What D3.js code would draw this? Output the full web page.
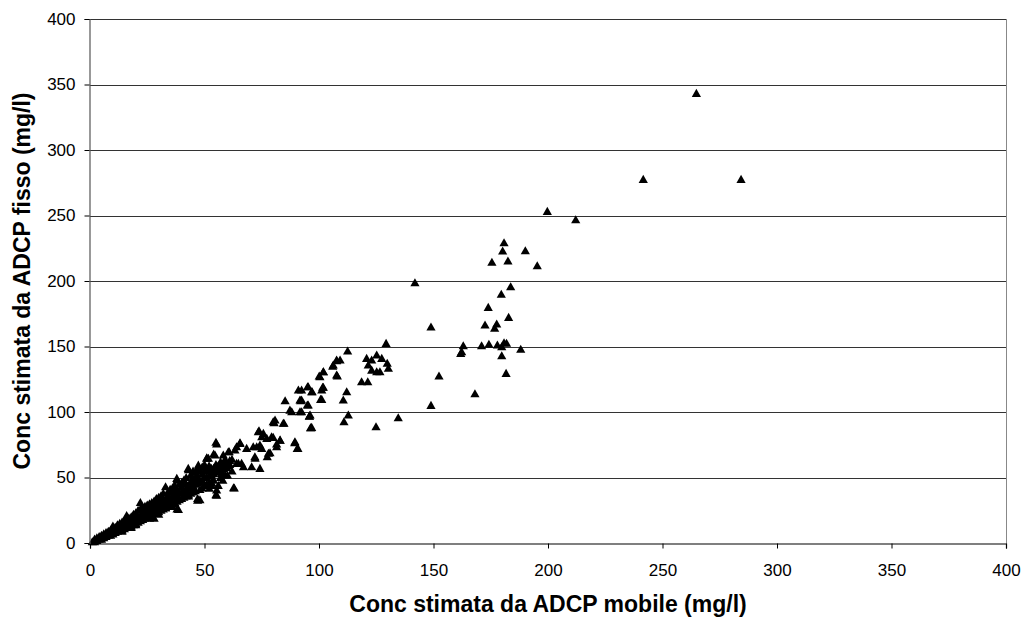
<!DOCTYPE html>
<html>
<head>
<meta charset="utf-8">
<script src="https://cdn.jsdelivr.net/npm/d3@7"></script>
<style>
html,body{margin:0;padding:0;background:#fff;}
svg{display:block;}
text{font-family:"Liberation Sans",Arial,sans-serif;}
</style>
</head>
<body>
<svg id="chart" width="1023" height="618"></svg>
<script>
const xTicks = [0, 50, 100, 150, 200, 250, 300, 350, 400];
const yTicks = [0, 50, 100, 150, 200, 250, 300, 350, 400];
const xTitle = "Conc stimata da ADCP mobile (mg/l)";
const yTitle = "Conc stimata da ADCP fisso (mg/l)";

// dense band (x = ADCP mobile, y = ADCP fisso)
const bandX = [1,2,2,3,3,4,4,5,5,5,6,6,6,7,7,7,8,8,8,9,9,9,10,10,10,10,11,11,11,12,12,12,13,13,13,14,14,14,15,15,15,16,16,16,16,17,17,17,18,18,18,19,19,19,20,20,20,21,21,21,22,22,22,22,23,23,23,24,24,24,25,25,25,26,26,26,27,27,27,28,28,28,29,29,29,30,30,30,31,31,31,32,32,32,33,33,33,34,34,34,35,35,35,36,36,36,37,37,37,38,38,38,38,39,39,39,40,40,40,41,41,41,42,42,42,43,43,43,44,44,44,45,45,45,46,46,46,47,47,47,48,48,48,49,49,49,50,50,50,51,51,51,52,52,52,53,53,54,54,54,55,55,55,55,56,56,57,57,57,58,58,59,59,60,60,61,62,63,62,
  45,47,49,51,53,55,57,59,61,46,50,52,54,56,58,44,42,40,38,36,34,32,30,
  28,18,24,14,33,20,43,26,48,30,53,36];
const bandY = [1,1,3,2,4,3,5,3,6,4,5,7,4,6,8,5,7,9,6,8,10,6,9,11,7,13,10,12,8,10,14,9,12,15,10,13,16,10,14,17,11,15,19,12,21,16,19,13,17,20,13,18,22,14,19,23,15,20,25,16,21,26,31,17,22,27,18,23,28,19,24,29,20,25,30,20,26,31,21,27,32,19,28,34,23,29,35,24,30,36,25,31,38,26,32,43,27,33,39,28,34,41,29,35,42,30,36,44,31,37,48,26,32,38,45,33,39,46,34,40,48,35,41,50,36,42,56,37,43,52,38,44,55,39,45,54,40,46,57,34,47,55,33,48,58,42,50,60,44,50,65,45,51,59,46,52,44,53,68,48,54,77,37,60,55,44,56,62,50,57,48,58,64,59,52,60,55,42,64,
  49,51,53,55,57,58,60,62,63,50,55,55,57,59,60,47,45,43,41,39,36,34,32,
  24,12,20,9,27,14,36,19,41,22,46,28];

// scattered points, mid and high range
const sparseX = [55.3,65.5,68.4,72.8,75,78.6,77.4,72.1,73.8,75,77.2,80,81.5,83,89.5,90.5,80.8,80.4,84.7,87.3,88.1,91.7,96.1,96.8,85.2,92,95.3,91,95,97,100.1,
  54.6,51,58.2,60.8,63.3,64.8,67,70.6,74.2,57.5,59,62.7,38.6,47,55.3,52.1,55.3,59.7,53.2,42.9,47.3,37.9,51.7,60.4,
  80,84.4,91.7,95.8,96.3,89.4,90.8,100.4,101.9,106.2,107.7,107.7,101.2,101.9,100.7,77.9,81.5,83,79.3,75.7,73.5,74.2,71.3,65.5,64,72,66.2,64,
  112.5,129.3,109.2,107.7,106,101.9,108,120.8,123,125.2,127.4,121.5,123,125.2,126.6,129.8,130.3,118.6,121.3,112.1,110.6,101.6,101.2,95.3,96.8,92.4,92.4,94.9,92.4,95.8,112.8,110.9,96.5,124.9,134.6,
  180.8,180.2,190.1,175.5,182.5,183.7,179.6,173.9,182.8,172.5,177.6,176.7,148.9,163,162.3,161.9,171,174.2,177.9,179.8,181.9,180.8,188.1,179.8,181.7,152.4,168.1,148.9,
  264.8,241.6,284.3,199.7,212.1,195.3,141.9];
const sparseY = [75.6,76.6,72.3,73.5,72.3,68.9,65.9,64.7,85.7,81.1,79.9,80.7,75.6,78.6,77.3,72.3,93.9,91.8,91.4,101.5,100.2,100.2,97.7,88.3,108.6,108.6,105.4,116.8,119.3,115.5,127.5,
  67.2,64.7,67.2,69.7,71,60.8,58.2,58.2,57,53.2,51.9,42.2,25.7,32.8,36.6,41.8,40.5,57.5,45.6,57,59.5,49.4,64.7,69.7,
  92.6,91.4,109.2,97,88,76.6,72.3,127,130.8,135.9,139.7,128.3,116.8,118.9,109.7,68.5,73.5,78.6,81.1,83.7,85,74.8,73.5,76.1,73.5,65.9,60.8,60.8,
  146.6,152.4,139.7,139.2,135,130.8,127.5,141,139.7,143.5,141,135.9,132,130.8,130.8,137.2,133.4,123.1,123.1,115.5,109.2,118.9,109.7,119.3,115.5,116.8,109.2,105.4,100.2,96.9,97.7,92.6,88,88.8,95.7,
  229.2,222.9,223.1,214.3,215.3,195.7,189.9,179.9,172.3,166.4,167.2,164.1,164.9,150.6,146,144.8,150.6,151.7,151.2,149.9,152.5,152.9,147.9,143,129.5,127.5,114,105.1,
  343.3,277.6,277.6,253.2,246.8,211.7,198.7];

const m = {left: 90, right: 1006, top: 19, bottom: 543};
const svg = d3.select("#chart");
const x = d3.scaleLinear().domain([0, 400]).range([m.left, m.right]);
const y = d3.scaleLinear().domain([0, 400]).range([m.bottom, m.top]);

// gridlines
svg.append("g").selectAll("line").data(yTicks.filter(d => d > 0)).join("line")
  .attr("x1", m.left).attr("x2", m.right)
  .attr("y1", d => Math.round(y(d)) + 0.5).attr("y2", d => Math.round(y(d)) + 0.5)
  .attr("stroke", "#333").attr("stroke-width", 1);

// right border
svg.append("line").attr("x1", m.right + 0.5).attr("x2", m.right + 0.5)
  .attr("y1", m.top).attr("y2", m.bottom).attr("stroke", "#888");

// points
const pts = bandX.map((d, i) => [d, bandY[i]]).concat(sparseX.map((d, i) => [d, sparseY[i]]));
const tri = "M0,-4.5L4.6,3.6L-4.6,3.6Z";
svg.append("g").selectAll("path").data(pts).join("path")
  .attr("d", tri)
  .attr("transform", d => `translate(${x(d[0])},${y(d[1])})`)
  .attr("fill", "#000");

// axes
const gx = svg.append("g").attr("transform", `translate(0,${Math.round(y(0)) + 0.5})`)
  .call(d3.axisBottom(x).tickValues(xTicks).tickSize(5).tickPadding(15).tickFormat(d3.format("d")));
const gy = svg.append("g").attr("transform", `translate(${Math.round(x(0)) - 0.5},0)`)
  .call(d3.axisLeft(y).tickValues(yTicks).tickSize(5).tickPadding(9).tickFormat(d3.format("d")));
[gx, gy].forEach(g => {
  g.select(".domain").attr("stroke", "#000").attr("stroke-width", 1.2);
  g.selectAll(".tick line").attr("stroke", "#000");
  g.selectAll(".tick text").attr("font-size", 17).attr("fill", "#000")
    .style("font-family", '"Liberation Sans", Arial, sans-serif');
});
gy.select(".domain").attr("stroke", "#555");

// titles
svg.append("text").attr("x", (m.left + m.right) / 2).attr("y", 612)
  .attr("text-anchor", "middle").attr("font-size", 23).attr("font-weight", "bold")
  .text(xTitle);
svg.append("text").attr("transform", `translate(30,${(m.top + m.bottom) / 2}) rotate(-90)`)
  .attr("text-anchor", "middle").attr("font-size", 23).attr("font-weight", "bold")
  .text(yTitle);
</script>
</body>
</html>
